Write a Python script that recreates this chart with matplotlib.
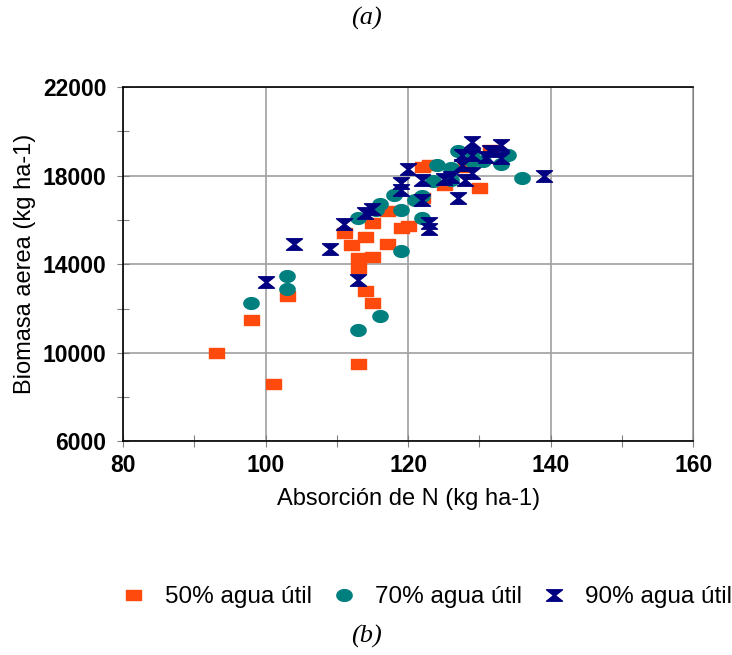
import matplotlib
matplotlib.use("Agg")
import matplotlib.pyplot as plt
from matplotlib.path import Path
import numpy as np

# 50% agua util
x50 = [93, 98, 101, 103, 111, 112, 113, 113, 113, 114, 114, 115, 115, 115, 117,
       117, 119, 120, 122, 122, 123, 125, 128, 130, 131.5]
y50 = [10000, 11500, 8600, 12550, 15400, 14870, 9500, 14300, 13850, 15250, 12800,
       14350, 15850, 12250, 14900, 16400, 15650, 15750, 17000, 18400, 18500, 17600,
       18400, 17450, 19150]

# 70% agua util
x70 = [98, 103, 103, 113, 116, 119, 119, 113, 116, 115.5, 118, 121, 122, 122, 124,
       123.5, 126, 126, 127, 129, 130.5, 133, 134, 136, 129]
y70 = [12250, 13450, 12900, 11050, 11650, 14600, 16450, 16100, 16700, 16450, 17150,
       16900, 16100, 17100, 18500, 17750, 18350, 17800, 19100, 18650, 18650, 18550,
       18950, 17900, 19050]

# 90% agua util
x90 = [100, 104, 109, 113, 111, 114, 115, 119, 119, 120, 122, 122, 123, 123, 125,
       126, 127, 127.5, 127.5, 128, 129, 129, 129, 131, 131.5, 133, 133, 139]
y90 = [13200, 14900, 14700, 13300, 15800, 16300, 16500, 17650, 17350, 18300, 17800,
       16900, 15850, 15600, 17850, 17950, 17000, 18500, 18950, 17800, 19500, 18950,
       18100, 18850, 19100, 19400, 18800, 18000]

labels = ["50% agua útil", "70% agua útil", "90% agua útil"]

plt.rcParams['font.family'] = ['Liberation Sans', 'DejaVu Sans']

# wide markers, like the stretched picture
rect = Path([(-1.5, -1), (1.5, -1), (1.5, 1), (-1.5, 1), (-1.5, -1)],
            [1, 2, 2, 2, 79])
t = np.linspace(0, 2 * np.pi, 40)
ellipse = Path(np.column_stack([1.3 * np.cos(t), np.sin(t)]))
hourglass = Path([(-1.4, 1), (1.4, 1), (0.15, 0), (1.4, -1), (-1.4, -1),
                  (-0.15, 0), (-1.4, 1)], [1, 2, 2, 2, 2, 2, 79])

fig = plt.figure(figsize=(7.32, 6.55), dpi=100)
ax = fig.add_axes([0.168, 0.326, 0.779, 0.541])

ax.plot(x50, y50, ls='none', marker=rect, ms=10.8, color='#FF4A0E',
        mec='#FF4A0E', label=labels[0])
ax.plot(x70, y70, ls='none', marker=ellipse, ms=11, color='#007F7F',
        mec='#007F7F', label=labels[1])
ax.plot(x90, y90, ls='none', marker=hourglass, ms=11.5, color='#000080',
        mec='#000080', label=labels[2])

ax.set_xlim(80, 160)
ax.set_ylim(6000, 22000)
ax.set_xticks([80, 100, 120, 140, 160])
ax.set_yticks([6000, 10000, 14000, 18000, 22000])
ax.set_xticks([90, 110, 130, 150], minor=True)
ax.set_yticks([8000, 12000, 16000, 20000], minor=True)
ax.grid(True, which='major', color='#A0A0A0', lw=1.2)
ax.set_axisbelow(True)
ax.tick_params(which='both', direction='inout', length=8, width=0.8,
               colors='#808080', labelcolor='black', labelsize=16.5)
ax.tick_params(axis='y', pad=8)
ax.tick_params(axis='x', pad=5)
for lab in ax.get_xticklabels() + ax.get_yticklabels():
    lab.set_fontweight('bold')
for s in ['left', 'bottom', 'top']:
    ax.spines[s].set_color('black')
    ax.spines[s].set_linewidth(1.2)
ax.spines['right'].set_color('#808080')

ax.set_xlabel("Absorción de N (kg ha-1)", fontsize=17, labelpad=8)
ax.set_ylabel("Biomasa aerea (kg ha-1)", fontsize=17, labelpad=5)

fig.legend(loc='center', bbox_to_anchor=(0.578, 0.088), ncol=3, frameon=False,
           fontsize=17.5, handletextpad=0.5, columnspacing=0.5, markerscale=1.0,
           handlelength=1.6)

fig.text(0.5, 0.972, "(a)", ha='center', va='center', fontsize=19,
         family='Liberation Serif', style='italic')
fig.text(0.5, 0.028, "(b)", ha='center', va='center', fontsize=19,
         family='Liberation Serif', style='italic')

fig.savefig("out.png", dpi=100)
